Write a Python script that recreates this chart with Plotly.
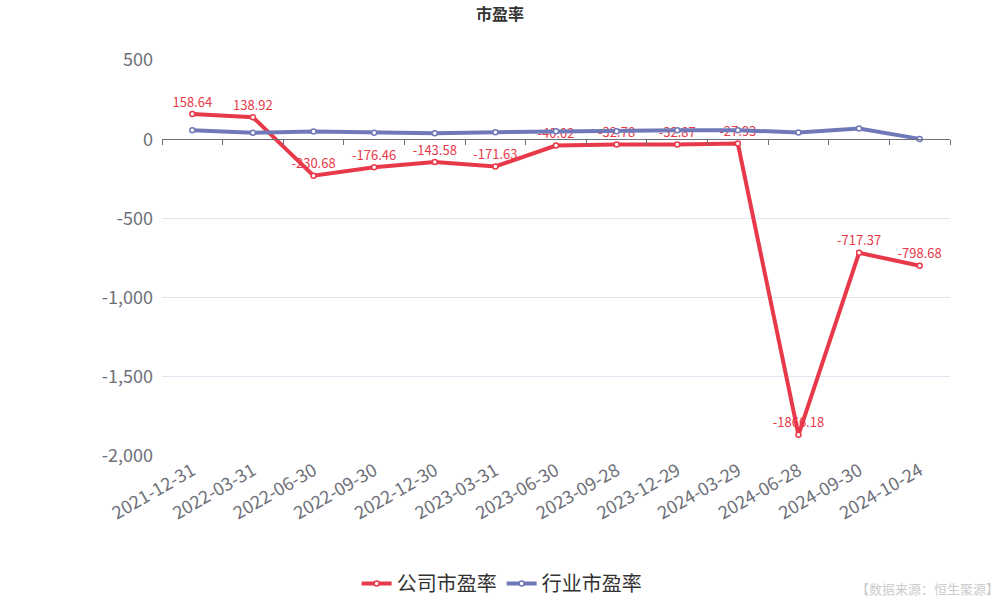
import plotly.graph_objects as go

# Reporting dates (category axis)
dates = ["2021-12-31", "2022-03-31", "2022-06-30", "2022-09-30", "2022-12-30",
         "2023-03-31", "2023-06-30", "2023-09-28", "2023-12-29", "2024-03-29",
         "2024-06-28", "2024-09-30", "2024-10-24"]

# Company P/E ratio
company_pe = [158.64, 138.92, -230.68, -176.46, -143.58, -171.63, -40.02,
              -32.78, -32.87, -27.93, -1866.18, -717.37, -798.68]

# Industry P/E ratio
industry_pe = [57, 40, 48, 40, 38, 44, 50, 50, 56, 57, 42, 67, 2]

y_ticks = [500, 0, -500, -1000, -1500, -2000]
y_tick_text = ["500", "0", "-500", "-1,000", "-1,500", "-2,000"]

RED = "#e8394a"
BLUE = "#7079b8"
FONT = "Noto Sans CJK SC, Noto Sans, sans-serif"

fig = go.Figure()

fig.add_trace(go.Scatter(
    x=dates, y=industry_pe, name="行业市盈率", xaxis="x2",
    mode="lines+markers",
    line=dict(color=BLUE, width=4),
    marker=dict(symbol="circle", size=5, color="white",
                line=dict(color=BLUE, width=1.5)),
))

fig.add_trace(go.Scatter(
    x=dates, y=company_pe, name="公司市盈率",
    mode="lines+markers+text",
    line=dict(color=RED, width=4),
    marker=dict(symbol="circle", size=5, color="white",
                line=dict(color=RED, width=1.5)),
    text=[f"{v:.2f}" for v in company_pe],
    textposition="top center",
    textfont=dict(color=RED, size=13, family=FONT),
))

fig.update_layout(
    width=1000, height=600,
    margin=dict(l=162, r=50, t=60, b=144, autoexpand=False),
    paper_bgcolor="white", plot_bgcolor="white",
    font=dict(family=FONT, color="#6e7079"),
    title=dict(text="<b>市盈率</b>", x=0.5, xanchor="center", y=0.985, yanchor="top",
               font=dict(size=16, color="#333333", family=FONT)),
    showlegend=True,
    legend=dict(orientation="h", x=0.431, xanchor="center", y=-0.322, yanchor="middle",
                font=dict(size=20, color="#333333", family=FONT),
                traceorder="reversed", itemwidth=30),
    xaxis=dict(type="category", categoryarray=dates, categoryorder="array",
               range=[-0.5, len(dates) - 0.5], automargin=False,
               showline=False, ticks="", showgrid=False, zeroline=False,
               tickangle=-30, tickfont=dict(size=18, color="#6e7079"),
               anchor="y"),
    xaxis2=dict(type="category", categoryarray=dates, categoryorder="array",
                matches="x", overlaying="x", anchor="free", position=0.8,
                showline=True, linecolor="#6e7079", linewidth=1,
                ticks="outside", ticklen=5, tickcolor="#6e7079", tickson="boundaries",
                showticklabels=False, showgrid=False, zeroline=False),
    yaxis=dict(range=[-2000, 500], tickvals=y_ticks, ticktext=y_tick_text,
               automargin=False,
               showgrid=True, gridcolor="#e0e6f1", gridwidth=1,
               zeroline=False, showline=False, ticks="",
               tickfont=dict(size=18, color="#6e7079"), ticklabelstandoff=8),
)

fig.add_annotation(
    text="【数据来源：恒生聚源】", xref="paper", yref="paper",
    x=1.065, y=-0.335, xanchor="right", yanchor="middle", showarrow=False,
    font=dict(size=13, color="#cccccc", family=FONT),
)

fig.write_html("out.html")
